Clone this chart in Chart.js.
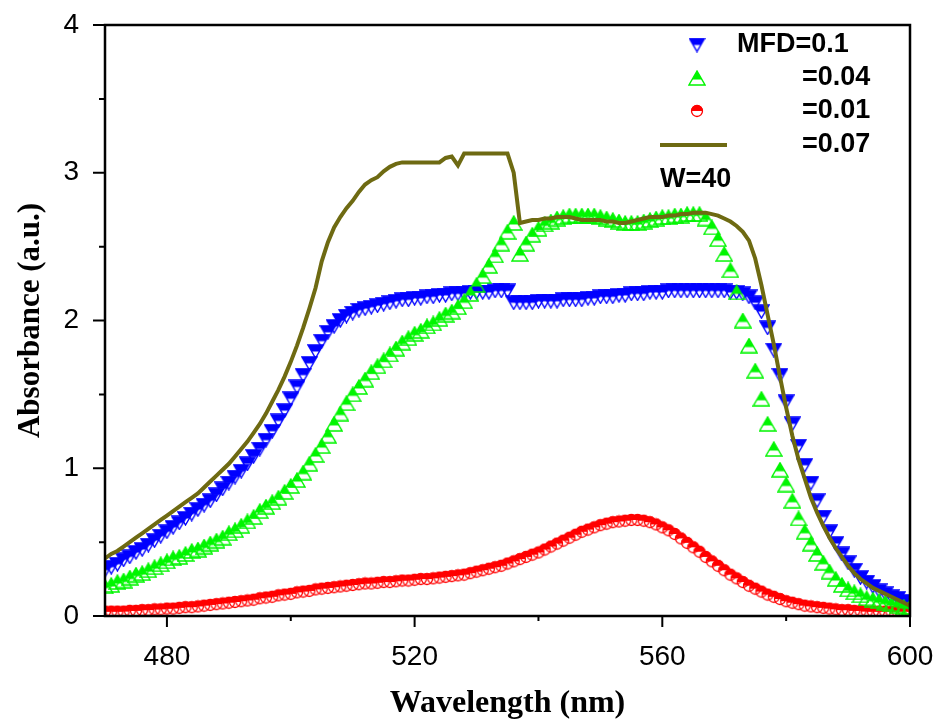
<!DOCTYPE html>
<html lang="en">
<head>
<meta charset="UTF-8">
<title>Absorbance vs Wavelength</title>
<script src="https://cdn.jsdelivr.net/npm/chart.js@4"></script>
<style>
    body { margin: 0; background: #fff; }
    .chart-box { width: 933px; height: 723px; }
</style>
</head>
<body>
<div class="chart-box"><canvas id="absChart" width="933" height="723"></canvas></div>
<script>
// wavelength grid (nm)
const wavelength = [
    470, 471, 472, 473, 474, 475, 476, 477, 478, 479,
    480, 481, 482, 483, 484, 485, 486, 487, 488, 489,
    490, 491, 492, 493, 494, 495, 496, 497, 498, 499,
    500, 501, 502, 503, 504, 505, 506, 507, 508, 509,
    510, 511, 512, 513, 514, 515, 516, 517, 518, 519,
    520, 521, 522, 523, 524, 525, 526, 527, 528, 529,
    530, 531, 532, 533, 534, 535, 536, 537, 538, 539,
    540, 541, 542, 543, 544, 545, 546, 547, 548, 549,
    550, 551, 552, 553, 554, 555, 556, 557, 558, 559,
    560, 561, 562, 563, 564, 565, 566, 567, 568, 569,
    570, 571, 572, 573, 574, 575, 576, 577, 578, 579,
    580, 581, 582, 583, 584, 585, 586, 587, 588, 589,
    590, 591, 592, 593, 594, 595, 596, 597, 598, 599,
    600
];

// MFD = 0.1 (blue)
const mfd01 = [
    0.31, 0.33, 0.35, 0.38, 0.40, 0.43, 0.45, 0.48, 0.51, 0.54,
    0.57, 0.60, 0.63, 0.66, 0.69, 0.72, 0.75, 0.78, 0.82, 0.86,
    0.90, 0.94, 0.98, 1.03, 1.08, 1.13, 1.19, 1.25, 1.32, 1.39,
    1.47, 1.55, 1.63, 1.71, 1.79, 1.86, 1.92, 1.96, 2.00, 2.03,
    2.05, 2.07, 2.08, 2.09, 2.10, 2.11, 2.12, 2.13, 2.14, 2.14,
    2.15, 2.15, 2.16, 2.16, 2.17, 2.17, 2.18, 2.18, 2.18, 2.19,
    2.19, 2.19, 2.19, 2.20, 2.20, 2.20, 2.12, 2.12, 2.12, 2.12,
    2.13, 2.13, 2.13, 2.13, 2.14, 2.14, 2.14, 2.14, 2.15, 2.15,
    2.16, 2.16, 2.16, 2.17, 2.17, 2.18, 2.18, 2.18, 2.19, 2.19,
    2.19, 2.20, 2.20, 2.20, 2.20, 2.20, 2.20, 2.20, 2.20, 2.20,
    2.20, 2.19, 2.19, 2.18, 2.16, 2.12, 2.06, 1.95, 1.80, 1.63,
    1.45, 1.30, 1.15, 1.02, 0.90, 0.78, 0.67, 0.57, 0.49, 0.42,
    0.36, 0.31, 0.26, 0.23, 0.20, 0.17, 0.15, 0.13, 0.12, 0.10,
    0.09
];

// MFD = 0.04 (green)
const mfd004 = [
    0.20, 0.21, 0.23, 0.24, 0.26, 0.28, 0.29, 0.31, 0.33, 0.35,
    0.37, 0.39, 0.40, 0.42, 0.44, 0.45, 0.47, 0.49, 0.51, 0.53,
    0.56, 0.58, 0.61, 0.64, 0.67, 0.71, 0.74, 0.77, 0.80, 0.84,
    0.88, 0.92, 0.97, 1.03, 1.09, 1.15, 1.22, 1.30, 1.37, 1.44,
    1.50, 1.55, 1.60, 1.65, 1.69, 1.73, 1.77, 1.81, 1.85, 1.88,
    1.91, 1.93, 1.96, 1.98, 2.01, 2.04, 2.06, 2.09, 2.13, 2.18,
    2.24, 2.30, 2.37, 2.44, 2.52, 2.60, 2.66, 2.45, 2.52, 2.58,
    2.62, 2.65, 2.67, 2.69, 2.70, 2.71, 2.71, 2.71, 2.71, 2.71,
    2.70, 2.69, 2.68, 2.67, 2.66, 2.66, 2.66, 2.67, 2.68, 2.69,
    2.70, 2.70, 2.71, 2.71, 2.72, 2.72, 2.72, 2.69, 2.63, 2.55,
    2.45, 2.34, 2.19, 2.00, 1.83, 1.66, 1.47, 1.30, 1.13, 0.99,
    0.89, 0.78, 0.66, 0.57, 0.49, 0.42, 0.36, 0.30, 0.25, 0.21,
    0.18, 0.16, 0.14, 0.12, 0.11, 0.10, 0.09, 0.08, 0.07, 0.06,
    0.06
];

// MFD = 0.01 (red)
const mfd001 = [
    0.030, 0.030, 0.030, 0.030, 0.035, 0.035, 0.040, 0.040, 0.045, 0.045,
    0.050, 0.050, 0.055, 0.060, 0.060, 0.065, 0.070, 0.075, 0.080, 0.085,
    0.090, 0.095, 0.100, 0.105, 0.110, 0.120, 0.125, 0.130, 0.140, 0.145,
    0.150, 0.160, 0.165, 0.170, 0.180, 0.185, 0.190, 0.195, 0.200, 0.205,
    0.210, 0.215, 0.220, 0.220, 0.225, 0.230, 0.230, 0.235, 0.240, 0.240,
    0.245, 0.250, 0.250, 0.255, 0.260, 0.265, 0.270, 0.275, 0.280, 0.290,
    0.300, 0.310, 0.320, 0.330, 0.340, 0.355, 0.370, 0.385, 0.400, 0.415,
    0.430, 0.450, 0.470, 0.490, 0.510, 0.530, 0.550, 0.570, 0.585, 0.600,
    0.615, 0.625, 0.635, 0.640, 0.645, 0.650, 0.650, 0.645, 0.635, 0.620,
    0.600, 0.580, 0.555, 0.525, 0.495, 0.465, 0.435, 0.400, 0.370, 0.340,
    0.310, 0.280, 0.255, 0.230, 0.205, 0.185, 0.165, 0.145, 0.130, 0.115,
    0.100, 0.090, 0.080, 0.070, 0.065, 0.060, 0.055, 0.050, 0.045, 0.040,
    0.040, 0.035, 0.035, 0.030, 0.030, 0.030, 0.030, 0.030, 0.030, 0.030,
    0.030
];

// MFD = 0.07 (olive line)
const mfd007 = [
    0.39, 0.42, 0.44, 0.47, 0.50, 0.53, 0.56, 0.59, 0.62, 0.65,
    0.68, 0.71, 0.74, 0.77, 0.80, 0.83, 0.87, 0.91, 0.95, 0.99,
    1.03, 1.08, 1.13, 1.18, 1.24, 1.30, 1.37, 1.45, 1.53, 1.62,
    1.72, 1.83, 1.95, 2.08, 2.22, 2.40, 2.53, 2.63, 2.70, 2.76,
    2.81, 2.87, 2.92, 2.95, 2.97, 3.01, 3.04, 3.06, 3.07, 3.07,
    3.07, 3.07, 3.07, 3.07, 3.07, 3.10, 3.11, 3.05, 3.13, 3.13,
    3.13, 3.13, 3.13, 3.13, 3.13, 3.13, 3.00, 2.66, 2.67, 2.68,
    2.68, 2.69, 2.69, 2.70, 2.70, 2.70, 2.69, 2.68, 2.68, 2.68,
    2.68, 2.67, 2.67, 2.66, 2.66, 2.67, 2.68, 2.69, 2.70, 2.70,
    2.70, 2.71, 2.71, 2.72, 2.72, 2.73, 2.73, 2.73, 2.72, 2.71,
    2.69, 2.67, 2.64, 2.60, 2.54, 2.42, 2.24, 2.04, 1.84, 1.62,
    1.41, 1.22, 1.06, 0.93, 0.80, 0.70, 0.61, 0.53, 0.46, 0.40,
    0.34, 0.29, 0.25, 0.22, 0.19, 0.17, 0.15, 0.13, 0.11, 0.09,
    0.07
];

const xMajorTicks = [480, 520, 560, 600];
const xMinorTicks = [500, 540, 580];
const yMajorTicks = [0, 1, 2, 3, 4];
const yMinorTicks = [0.5, 1.5, 2.5, 3.5];

const legendLabels = ['MFD=0.1', '=0.04', '=0.01', '=0.07'];
const noteLabel = 'W=40';

const BLUE = '#0000ff';
const GREEN = '#00f500';
const RED = '#ff0000';
const OLIVE = '#6e6a12';

// half filled markers
function triangleMarker(color, down, w, h) {
    const c = document.createElement('canvas');
    c.width = w + 2; c.height = h + 2;
    const g = c.getContext('2d');
    const outline = () => {
        g.beginPath();
        if (down) {
            g.moveTo(1, 1); g.lineTo(w + 1, 1); g.lineTo(w / 2 + 1, h + 1);
        } else {
            g.moveTo(w / 2 + 1, 1); g.lineTo(1, h + 1); g.lineTo(w + 1, h + 1);
        }
        g.closePath();
    };
    g.save();
    g.beginPath();
    g.rect(0, 0, c.width, down ? h * 0.5 + 1 : h * 0.6 + 1);
    g.clip();
    outline();
    g.fillStyle = color;
    g.fill();
    g.restore();
    outline();
    g.strokeStyle = color;
    g.lineWidth = 1.4;
    g.stroke();
    return c;
}

function circleMarker(color) {
    const r = 6;
    const c = document.createElement('canvas');
    c.width = 2 * r + 2; c.height = 2 * r + 2;
    const g = c.getContext('2d');
    g.beginPath();
    g.arc(r + 1, r + 1, r, Math.PI, 2 * Math.PI);
    g.closePath();
    g.fillStyle = color;
    g.fill();
    g.beginPath();
    g.arc(r + 1, r + 1, r - 0.5, 0, 2 * Math.PI);
    g.strokeStyle = color;
    g.lineWidth = 1.3;
    g.stroke();
    return c;
}

const blueMark = triangleMarker(BLUE, true, 15, 13);
const greenMark = triangleMarker(GREEN, false, 16, 14);
const redMark = circleMarker(RED);

function pts(values) {
    return wavelength.map((w, i) => ({ x: w, y: values[i] }));
}

// frame, minor/major ticks and the in-plot legend
const framePlugin = {
    id: 'frame',
    afterDraw(chart) {
        const { ctx, chartArea: a, scales: { x, y } } = chart;
        ctx.save();
        ctx.strokeStyle = '#000';
        ctx.lineWidth = 2.5;
        ctx.strokeRect(a.left, a.top, a.right - a.left, a.bottom - a.top);

        ctx.lineWidth = 2;
        ctx.beginPath();
        xMajorTicks.forEach(v => {
            const px = x.getPixelForValue(v);
            ctx.moveTo(px, a.bottom); ctx.lineTo(px, a.bottom + 11);
        });
        xMinorTicks.forEach(v => {
            const px = x.getPixelForValue(v);
            ctx.moveTo(px, a.bottom); ctx.lineTo(px, a.bottom + 5);
        });
        yMajorTicks.forEach(v => {
            const py = y.getPixelForValue(v);
            ctx.moveTo(a.left, py); ctx.lineTo(a.left - 12, py);
        });
        yMinorTicks.forEach(v => {
            const py = y.getPixelForValue(v);
            ctx.moveTo(a.left, py); ctx.lineTo(a.left - 6, py);
        });
        ctx.stroke();

        // legend
        ctx.drawImage(blueMark, 697 - blueMark.width / 2, 45 - blueMark.height / 2);
        ctx.drawImage(greenMark, 697 - greenMark.width / 2, 78 - greenMark.height / 2);
        ctx.drawImage(redMark, 697 - redMark.width / 2, 111 - redMark.height / 2);
        ctx.strokeStyle = OLIVE;
        ctx.lineWidth = 4;
        ctx.beginPath();
        ctx.moveTo(660, 145); ctx.lineTo(727, 145);
        ctx.stroke();

        ctx.fillStyle = '#000';
        ctx.font = 'bold 27px "Liberation Sans", Arial, sans-serif';
        ctx.textBaseline = 'middle';
        ctx.textAlign = 'left';
        ctx.fillText(legendLabels[0], 737, 45);
        ctx.fillText(legendLabels[1], 802, 78);
        ctx.fillText(legendLabels[2], 802, 111);
        ctx.fillText(legendLabels[3], 802, 145);
        ctx.fillText(noteLabel, 660, 180);
        ctx.restore();
    }
};

const ctx = document.getElementById('absChart').getContext('2d');
const absChart = new Chart(ctx, {
    type: 'line',
    data: {
        datasets: [
            {
                label: legendLabels[3], data: pts(mfd007), borderColor: OLIVE, borderWidth: 4,
                pointRadius: 0, tension: 0, fill: false, order: 0
            },
            {
                label: legendLabels[1], data: pts(mfd004), showLine: false,
                pointStyle: greenMark, pointRadius: 7, pointHoverRadius: 7, order: 1
            },
            {
                label: legendLabels[0], data: pts(mfd01), showLine: false,
                pointStyle: blueMark, pointRadius: 7, pointHoverRadius: 7, order: 2
            },
            {
                label: legendLabels[2], data: pts(mfd001), showLine: false,
                pointStyle: redMark, pointRadius: 6, pointHoverRadius: 6, order: 3
            }
        ]
    },
    options: {
        responsive: false,
        animation: false,
        devicePixelRatio: 1,
        layout: { padding: { top: 25, right: 23, left: 0, bottom: 0 } },
        plugins: { legend: { display: false }, tooltip: { enabled: false } },
        scales: {
            x: {
                type: 'linear',
                min: 470,
                max: 600,
                afterBuildTicks: s => { s.ticks = xMajorTicks.map(v => ({ value: v })); },
                afterFit: s => { s.height = 107; s.paddingLeft = 0; s.paddingRight = 0; },
                grid: { display: false },
                border: { display: false },
                ticks: {
                    color: '#000',
                    padding: 16,
                    maxRotation: 0,
                    autoSkip: false,
                    font: { family: '"Liberation Sans", Arial, sans-serif', size: 28 },
                    callback: v => String(v)
                },
                title: {
                    display: true,
                    text: 'Wavelength (nm)',
                    color: '#000',
                    padding: 0,
                    font: { family: '"Liberation Serif", "Times New Roman", serif', size: 32, weight: 'bold' }
                }
            },
            y: {
                min: 0,
                max: 4,
                afterBuildTicks: s => { s.ticks = yMajorTicks.map(v => ({ value: v })); },
                afterFit: s => { s.width = 105; s.paddingTop = 0; s.paddingBottom = 0; },
                grid: { display: false },
                border: { display: false },
                ticks: {
                    color: '#000',
                    padding: 18,
                    font: { family: '"Liberation Sans", Arial, sans-serif', size: 28 },
                    callback: v => String(v)
                },
                title: {
                    display: true,
                    text: 'Absorbance (a.u.)',
                    color: '#000',
                    padding: { top: 12, bottom: 0 },
                    font: { family: '"Liberation Serif", "Times New Roman", serif', size: 31, weight: 'bold' }
                }
            }
        }
    },
    plugins: [framePlugin]
});
</script>
</body>
</html>
